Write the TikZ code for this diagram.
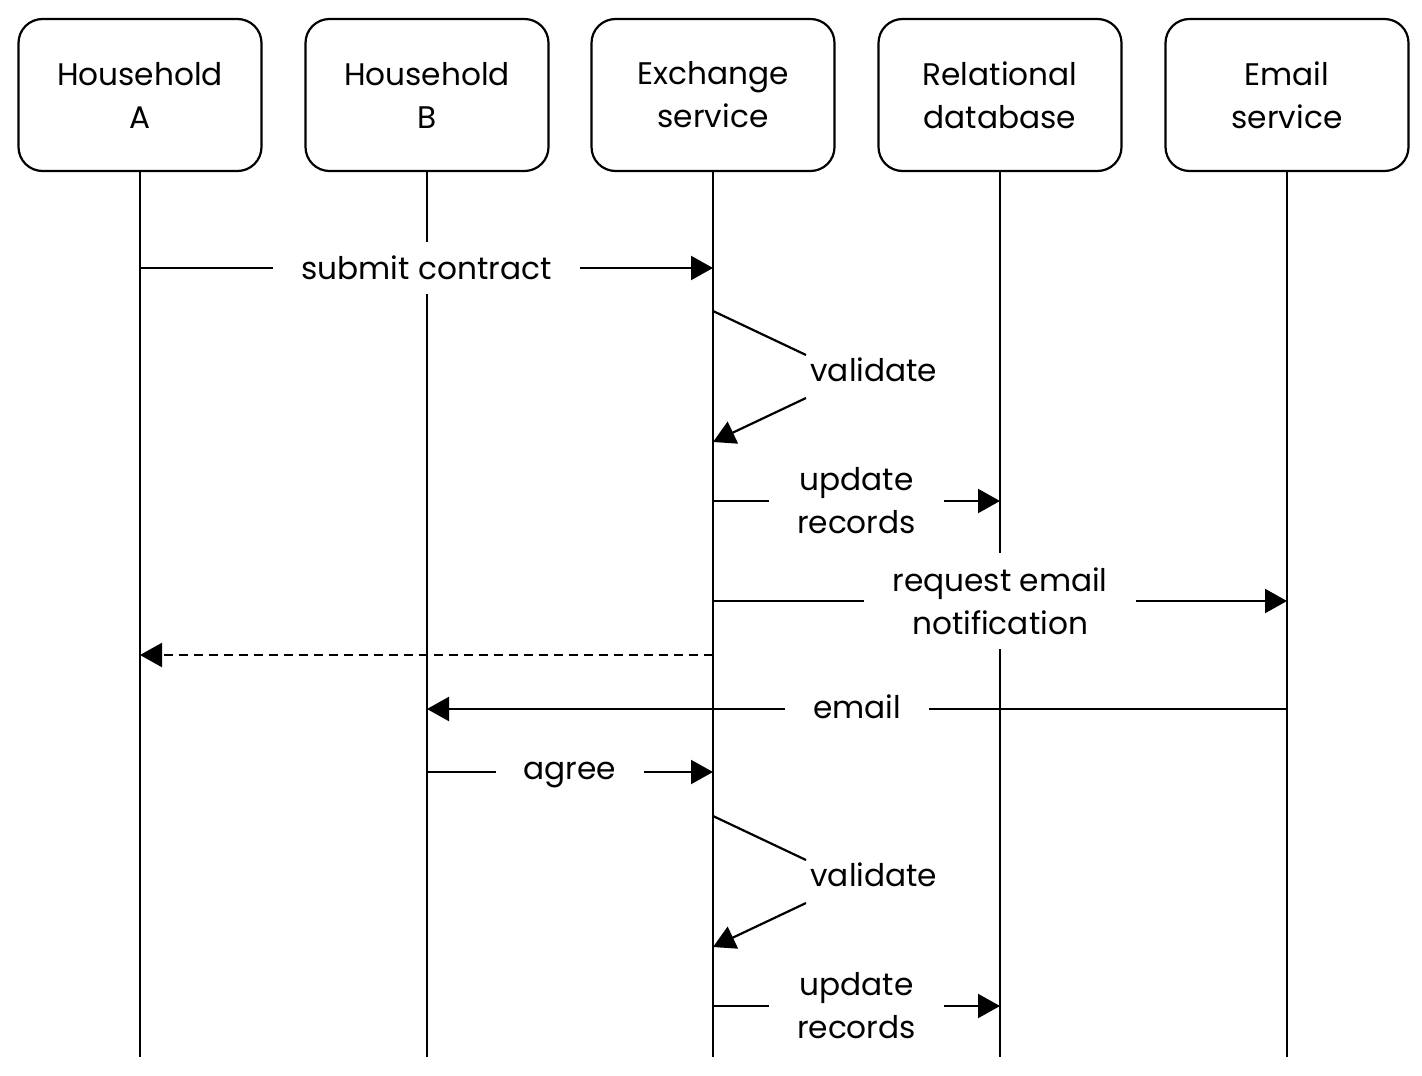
\documentclass[tikz,border=0pt]{standalone}
\usepackage{fontspec}
\setmainfont{Poppins}
\usetikzlibrary{arrows.meta}
\begin{document}
\begin{tikzpicture}[x=0.5pt,y=-0.5pt,
  font=\fontsize{15.6pt}{21.5pt}\selectfont,
  actor/.style={draw,line width=1.1pt,rounded corners=12pt,minimum width=121.5pt,minimum height=76pt,align=center,inner sep=0pt},
  life/.style={line width=1pt},
  msg/.style={line width=1.1pt,-{Triangle[length=11pt,width=12pt]}},
  dmsg/.style={msg,dash pattern=on 4.5pt off 3pt},
  lbl/.style={fill=white,align=center,inner xsep=14pt,inner ysep=7pt},
  vlbl/.style={anchor=west,inner sep=0pt}]
\useasboundingbox (0,0) rectangle (1422,1075);
\node[actor] (A) at (140,95) {Household\\A};
\node[actor] (B) at (427,95) {Household\\B};
\node[actor] (E) at (713,95) {Exchange\\service};
\node[actor] (R) at (1000,95) {Relational\\database};
\node[actor] (M) at (1287,95) {Email\\service};
\coordinate (bot) at (0,1057);
\foreach \n in {A,B,E,R,M} \draw[life] (\n.south) -- (\n |- bot);
% y levels
\coordinate (y1) at (0,268);
\coordinate (yv1a) at (0,311);
\coordinate (yv1b) at (0,442);
\coordinate (y3) at (0,501);
\coordinate (y4) at (0,601);
\coordinate (y5) at (0,655);
\coordinate (y6) at (0,709);
\coordinate (y7) at (0,772);
\coordinate (yv2a) at (0,816);
\coordinate (yv2b) at (0,947);
\coordinate (y9) at (0,1006);
\coordinate (v1a) at (806,355);
\coordinate (v1b) at (806,398);
\coordinate (v2a) at (806,860);
\coordinate (v2b) at (806,903);
% messages
\draw[msg] (A |- y1) -- node[lbl] {submit contract} (E |- y1);
\draw[line width=1.1pt] (E |- yv1a) -- (v1a);
\draw[msg] (v1b) -- (E |- yv1b);
\node[vlbl] (val1) at (810,370) {validate};
\draw[msg] (E |- y3) -- node[lbl] {update\\records} (R |- y3);
\draw[msg] (E |- y4) -- node[lbl] {request email\\notification} (M |- y4);
\draw[dmsg] (E |- y5) -- (A |- y5);
\draw[msg] (M |- y6) -- node[lbl, yshift=1pt] {email} (B |- y6);
\draw[msg] (B |- y7) -- node[lbl, yshift=-1.5pt] {agree} (E |- y7);
\draw[line width=1.1pt] (E |- yv2a) -- (v2a);
\draw[msg] (v2b) -- (E |- yv2b);
\node[vlbl] (val2) at (810,875) {validate};
\draw[msg] (E |- y9) -- node[lbl] {update\\records} (R |- y9);
\end{tikzpicture}
\end{document}
